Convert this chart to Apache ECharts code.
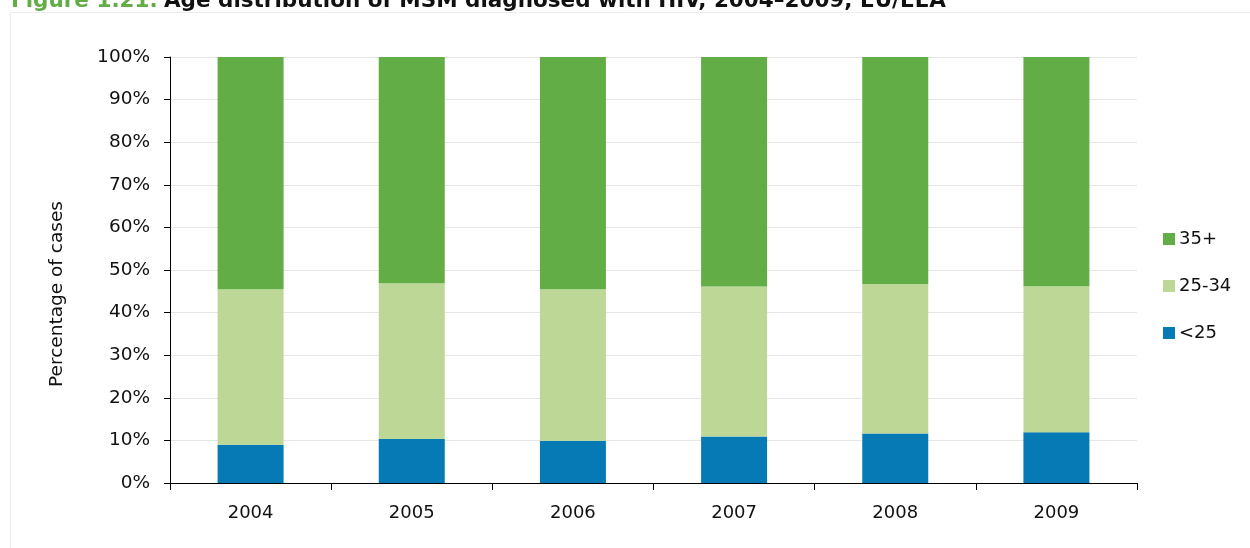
<!DOCTYPE html>
<html>
<head>
<meta charset="utf-8">
<script src="https://cdn.jsdelivr.net/npm/echarts@6/dist/echarts.min.js"></script>
<style>html,body{margin:0;padding:0;background:#fff}#c{width:1250px;height:548px}</style>
</head>
<body>
<div id="c"></div>
<script>
const years = ['2004','2005','2006','2007','2008','2009'];
const under25 = [9.0, 10.3, 9.9, 10.9, 11.6, 11.9];
const age25to34 = [36.5, 36.6, 35.6, 35.2, 35.1, 34.3];
const age35plus = [54.5, 53.1, 54.5, 53.9, 53.3, 53.8];
const yTicks = [0,10,20,30,40,50,60,70,80,90,100];

const FONT = 'DejaVu Sans';
const chart = echarts.init(document.getElementById('c'));
chart.setOption({
  animation: false,
  textStyle: {fontFamily: FONT},
  graphic: [{
    type: 'rect', shape: {x: 10.5, y: 12.5, width: 1260, height: 560},
    style: {fill: 'none', stroke: '#ececec', lineWidth: 1}, silent: true, z: -1
  }],
  title: {
    text: '{g|Figure 1.21.} {b|Age distribution of MSM diagnosed with HIV, 2004\u20132009, EU/EEA}',
    left: 6, top: -15,
    textStyle: {
      rich: {
        g: {fontFamily: FONT, fontWeight: 'bold', fontSize: 21.5, color: '#62AD46'},
        b: {fontFamily: FONT, fontWeight: 'bold', fontSize: 21.5, color: '#111'}
      }
    }
  },
  grid: {left: 170, right: 113, top: 57, bottom: 65, containLabel: false},
  legend: {
    orient: 'vertical', left: 1158, top: 225,
    itemWidth: 12, itemHeight: 12, itemGap: 29,
    icon: 'rect',
    textStyle: {fontFamily: FONT, fontSize: 18, color: '#111', padding: [0,0,0,-1]},
    data: ['35+', '25-34', '<25']
  },
  xAxis: {
    type: 'category', data: years,
    axisLine: {lineStyle: {color: '#000', width: 1}},
    axisTick: {show: true, length: 7, alignWithLabel: false, lineStyle: {color: '#000'}},
    axisLabel: {fontFamily: FONT, fontSize: 18, color: '#111', margin: 21}
  },
  yAxis: {
    type: 'value', min: 0, max: 100, interval: 10,
    name: 'Percentage of cases', nameLocation: 'middle', nameGap: 103,
    nameTextStyle: {fontFamily: FONT, fontSize: 18.5, color: '#111', padding: [0, 48, 0, 0]},
    axisLine: {show: true, lineStyle: {color: '#000'}},
    axisTick: {show: true, length: 6, lineStyle: {color: '#000'}},
    axisLabel: {fontFamily: FONT, fontSize: 18.5, color: '#111', margin: 20,
      formatter: v => yTicks.includes(v) ? v + '%' : ''},
    splitLine: {lineStyle: {color: '#e6e6e6', width: 1}}
  },
  series: [
    {name: '<25', type: 'bar', stack: 'a', data: under25, barWidth: 66,
     itemStyle: {color: '#067AB5'}},
    {name: '25-34', type: 'bar', stack: 'a', data: age25to34, barWidth: 66,
     itemStyle: {color: '#BDD896'}},
    {name: '35+', type: 'bar', stack: 'a', data: age35plus, barWidth: 66,
     itemStyle: {color: '#62AD46'}}
  ]
});
</script>
</body>
</html>
